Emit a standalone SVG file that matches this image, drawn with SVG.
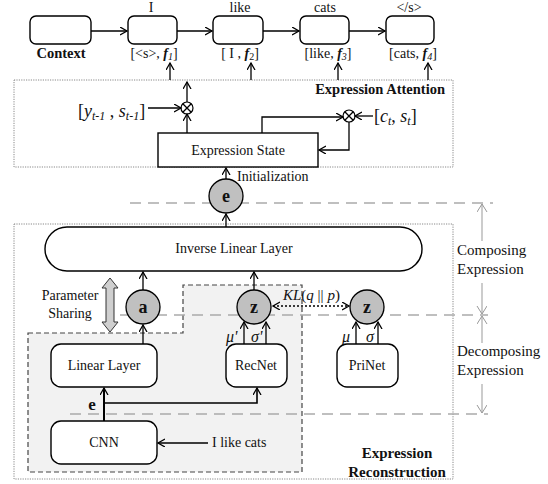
<svg xmlns="http://www.w3.org/2000/svg" width="548" height="484" viewBox="0 0 548 484">
<style>
text{font-family:"Liberation Serif","Times New Roman",serif;fill:#111}
.lbl{font-size:14px}
.side{font-size:15px}
.b{font-weight:bold}
.box{fill:#fff;stroke:#000;stroke-width:1.4}
.circ{fill:#c0c0c0;stroke:#000;stroke-width:1.3}
.ln{fill:none;stroke:#000;stroke-width:1.3}
.dot{fill:none;stroke:#888;stroke-width:1;stroke-dasharray:1.2,1.2}
.gd{fill:none;stroke:#aaa;stroke-width:1.5;stroke-dasharray:11,7}
.gv{fill:none;stroke:#999;stroke-width:1}
.cl{font-size:18px;font-weight:bold}
</style>
<defs>
<marker id="ah" markerUnits="userSpaceOnUse" markerWidth="10" markerHeight="10" refX="7" refY="4" orient="auto-start-reverse">
<path d="M0,0 L7,4 L0,8" fill="none" stroke="#000" stroke-width="1.3"/>
</marker>
<marker id="gh" markerUnits="userSpaceOnUse" markerWidth="12" markerHeight="12" refX="8" refY="5" orient="auto-start-reverse">
<path d="M0,0 L8,5 L0,10" fill="none" stroke="#999" stroke-width="1"/>
</marker>
</defs>

<!-- background regions -->
<rect x="14" y="80" width="439" height="87" class="dot"/>
<rect x="14" y="224" width="439" height="255" class="dot"/>
<polygon points="28,333 183,333 183,285 302,285 302,472 28,472" fill="#f2f2f2" stroke="#444" stroke-width="1.2" stroke-dasharray="5,3"/>
<text x="445" y="94" text-anchor="end" class="b" style="font-size:14.5px">Expression Attention</text>
<text x="397" y="458" text-anchor="middle" class="b" style="font-size:15px">Expression</text>
<text x="397" y="477" text-anchor="middle" class="b" style="font-size:15px">Reconstruction</text>

<!-- guide lines -->
<g id="guides">
<line x1="130" y1="203" x2="493" y2="203" class="gd"/>
<line x1="120" y1="315" x2="488" y2="315" class="gd"/>
<line x1="70" y1="414" x2="488" y2="414" class="gd"/>
<path d="M482,241 V204" class="gv" marker-end="url(#gh)"/>
<path d="M482,283 V314" class="gv" marker-end="url(#gh)"/>
<path d="M482,343 V316" class="gv" marker-end="url(#gh)"/>
<path d="M482,384 V413" class="gv" marker-end="url(#gh)"/>
<text x="457" y="255" class="side">Composing</text>
<text x="457" y="274" class="side">Expression</text>
<text x="457" y="356" class="side">Decomposing</text>
<text x="457" y="375" class="side">Expression</text>
</g>

<!-- top sequence -->
<g id="context"><rect x="30" y="16" width="61" height="28" rx="6" class="box"/><text x="61" y="58" text-anchor="middle" class="b" style="font-size:14.5px">Context</text></g>
<g id="w1"><rect x="128" y="16" width="49" height="28" rx="6" class="box"/><text x="151" y="12" text-anchor="middle" class="lbl">I</text><text x="154" y="58" text-anchor="middle" class="lbl">[&lt;s&gt;, <tspan class="b" font-style="italic">f</tspan><tspan font-size="10" font-style="italic" dy="2">1</tspan><tspan dy="-2">]</tspan></text></g>
<g id="w2"><rect x="213" y="16" width="50" height="28" rx="6" class="box"/><text x="240" y="12" text-anchor="middle" class="lbl">like</text><text x="240" y="58" text-anchor="middle" class="lbl">[ I , <tspan class="b" font-style="italic">f</tspan><tspan font-size="10" dy="2">2</tspan><tspan dy="-2">]</tspan></text></g>
<g id="w3"><rect x="300" y="16" width="49" height="28" rx="6" class="box"/><text x="325" y="12" text-anchor="middle" class="lbl">cats</text><text x="328" y="58" text-anchor="middle" class="lbl">[like, <tspan class="b" font-style="italic">f</tspan><tspan font-size="10" font-style="italic" dy="2">3</tspan><tspan dy="-2">]</tspan></text></g>
<g id="w4"><rect x="386" y="16" width="48" height="28" rx="6" class="box"/><text x="409" y="12" text-anchor="middle" class="lbl">&lt;/s&gt;</text><text x="413" y="58" text-anchor="middle" class="lbl">[cats, <tspan class="b" font-style="italic">f</tspan><tspan font-size="10" font-style="italic" dy="2">4</tspan><tspan dy="-2">]</tspan></text></g>

<!-- attention -->
<g id="state"><rect x="158" y="133" width="160" height="34" class="box"/><text x="238" y="155" text-anchor="middle" class="lbl">Expression State</text></g>
<g id="otimes1"><circle cx="187" cy="108" r="6" fill="#fff" stroke="#000" stroke-width="1.2"/><path d="M182.8,103.8 L191.2,112.2 M191.2,103.8 L182.8,112.2" class="ln" stroke-width="1"/></g>
<g id="otimes2"><circle cx="349" cy="116" r="6" fill="#fff" stroke="#000" stroke-width="1.2"/><path d="M344.8,111.8 L353.2,120.2 M353.2,111.8 L344.8,120.2" class="ln" stroke-width="1"/></g>
<text x="78" y="117" style="font-size:18px">[<tspan font-style="italic">y</tspan><tspan font-size="12" font-style="italic" dy="3">t-1</tspan><tspan dy="-3"> , </tspan><tspan font-style="italic">s</tspan><tspan font-size="12" font-style="italic" dy="3">t-1</tspan><tspan dy="-3">]</tspan></text>
<text x="374" y="122" style="font-size:18px">[<tspan font-style="italic">c</tspan><tspan font-size="12" font-style="italic" dy="3">t</tspan><tspan dy="-3">, </tspan><tspan font-style="italic">s</tspan><tspan font-size="12" font-style="italic" dy="3">t</tspan><tspan dy="-3">]</tspan></text>
<text x="237" y="181" class="lbl">Initialization</text>

<!-- reconstruction nodes -->
<g id="ill"><rect x="45" y="227" width="377" height="44" rx="22" class="box"/><text x="234" y="253" text-anchor="middle" class="lbl">Inverse Linear Layer</text></g>
<g id="e"><circle cx="226" cy="196" r="17" class="circ"/><text x="226" y="202" text-anchor="middle" class="cl">e</text></g>
<g id="a"><circle cx="143" cy="307" r="17" class="circ"/><text x="143" y="313" text-anchor="middle" class="cl">a</text></g>
<g id="z1"><circle cx="254" cy="307" r="17" class="circ"/><text x="254" y="313" text-anchor="middle" class="cl">z</text></g>
<g id="z2"><circle cx="367" cy="307" r="17" class="circ"/><text x="367" y="313" text-anchor="middle" class="cl">z</text></g>
<g id="linear"><rect x="51" y="344" width="106" height="43" rx="10" class="box"/><text x="104" y="370" text-anchor="middle" class="lbl">Linear Layer</text></g>
<g id="recnet"><rect x="226" y="344" width="61" height="43" rx="10" class="box"/><text x="256" y="370" text-anchor="middle" class="lbl">RecNet</text></g>
<g id="prinet"><rect x="337" y="344" width="61" height="43" rx="10" class="box"/><text x="367" y="370" text-anchor="middle" class="lbl">PriNet</text></g>
<g id="cnn"><rect x="51" y="421" width="106" height="43" rx="10" class="box"/><text x="104" y="447" text-anchor="middle" class="lbl">CNN</text></g>
<g id="share">
<polygon points="110,278 118,288 114,288 114,322 118,322 110,332 102,322 106,322 106,288 102,288" fill="#cfcfcf" stroke="#333" stroke-width="1"/>
<text x="70" y="300" text-anchor="middle" class="lbl">Parameter</text>
<text x="70" y="318" text-anchor="middle" class="lbl">Sharing</text>
</g>
<text x="212" y="447" class="lbl">I like cats</text>
<text x="92" y="410" text-anchor="middle" class="b" style="font-size:17px">e</text>
<text x="226" y="342" style="font-size:16px;font-style:italic">μ'</text>
<text x="251" y="342" style="font-size:16px;font-style:italic">σ'</text>
<text x="342" y="342" style="font-size:16px;font-style:italic">μ</text>
<text x="366" y="342" style="font-size:16px;font-style:italic">σ</text>
<text x="283" y="300" style="font-size:15px;font-style:italic">KL<tspan font-style="normal">(</tspan>q<tspan font-style="normal"> || </tspan>p<tspan font-style="normal">)</tspan></text>

<!-- connectors -->
<g id="connectors">
<path d="M91,31 H127" class="ln" marker-end="url(#ah)"/>
<path d="M177,31 H212" class="ln" marker-end="url(#ah)"/>
<path d="M263,31 H299" class="ln" marker-end="url(#ah)"/>
<path d="M349,31 H385" class="ln" marker-end="url(#ah)"/>
<path d="M170,80 V63" class="ln" marker-end="url(#ah)"/>
<path d="M251,80 V63" class="ln" marker-end="url(#ah)"/>
<path d="M338,80 V63" class="ln" marker-end="url(#ah)"/>
<path d="M428,80 V63" class="ln" marker-end="url(#ah)"/>
<path d="M187,102 V82" class="ln" marker-end="url(#ah)"/>
<path d="M148,108 H181" class="ln" marker-end="url(#ah)"/>
<path d="M187,133 V114" class="ln" marker-end="url(#ah)"/>
<path d="M262,133 V117 H343" class="ln" marker-end="url(#ah)"/>
<path d="M373,116 H355" class="ln" marker-end="url(#ah)"/>
<path d="M349,122 V150 H319" class="ln" marker-end="url(#ah)"/>
<path d="M226,179 V168" class="ln" marker-end="url(#ah)"/>
<path d="M226,227 V214" class="ln" marker-end="url(#ah)"/>
<path d="M143,290 V272" class="ln" marker-end="url(#ah)"/>
<path d="M254,290 V272" class="ln" marker-end="url(#ah)"/>
<path d="M143,344 V325" class="ln" marker-end="url(#ah)"/>
<path d="M244,344 V322" class="ln" marker-end="url(#ah)"/>
<path d="M266,344 V322" class="ln" marker-end="url(#ah)"/>
<path d="M356,344 V322" class="ln" marker-end="url(#ah)"/>
<path d="M378,344 V322" class="ln" marker-end="url(#ah)"/>
<path d="M273,306 H349" fill="none" stroke="#000" stroke-width="1.5" stroke-dasharray="2,2" marker-start="url(#ah)" marker-end="url(#ah)"/>
<path d="M104,421 V388" fill="none" stroke="#000" stroke-width="2" marker-end="url(#ah)"/>
<path d="M104,403 H257 V388" fill="none" stroke="#000" stroke-width="1.6" marker-end="url(#ah)"/>
<path d="M208,443 H158" class="ln" marker-end="url(#ah)"/>
</g>
</svg>
